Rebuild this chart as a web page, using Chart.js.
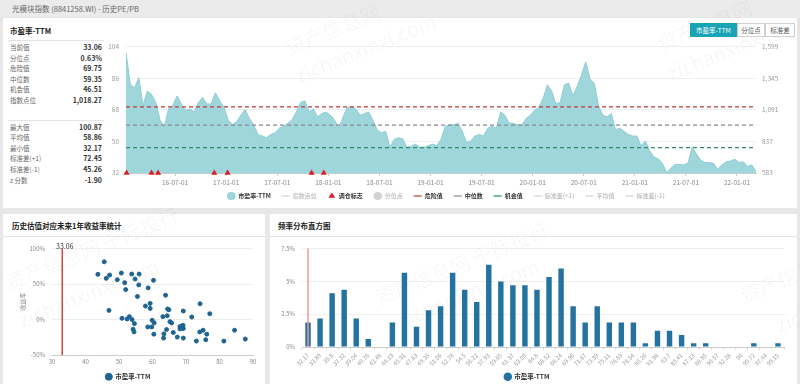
<!DOCTYPE html>
<html lang="zh-CN">
<head>
<meta charset="UTF-8">
<title>光模块指数 (8841258.WI) - 历史PE/PB</title>
<script src="https://cdn.jsdelivr.net/npm/chart.js"></script>
<style>
    body {
        margin: 0;
        width: 800px;
        height: 384px;
        overflow: hidden;
        position: relative;
        background: #e7e7e7;
        font-family: "Noto Sans CJK SC", "Noto Sans", sans-serif;
        color: #333;
    }
    .box { position: absolute; }
    .panel { position: absolute; background: #fff; }
    #header {
        left: 0; top: 0; width: 800px; height: 17px;
        line-height: 17px; font-size: 7.5px; color: #666;
        padding-left: 12px; box-sizing: border-box; background: #ebebeb;
    }
    .title { font-size: 7.5px; font-weight: bold; color: #222; }
    .rule { height: 1px; background: #e3e3e3; }
    .statLabel { font-size: 6.5px; color: #666; line-height: 10px; height: 10px; white-space: nowrap; }
    .statValue { font-size: 7px; font-weight: bold; color: #333; line-height: 10px; height: 10px; text-align: right; width: 60px; }
    .btn {
        height: 12px; line-height: 12px; font-size: 6.5px; text-align: center;
        border: 1px solid #d0d0d0; color: #555; background: #fff;
    }
    .btn.active { background: #18a4b4; border-color: #18a4b4; color: #fff; }
    .wm {
        position: absolute; white-space: nowrap; font-size: 20px; line-height: 20px;
        color: rgba(0, 0, 0, 0.045); transform-origin: 0 100%; transform: rotate(-22deg);
        pointer-events: none;
    }
</style>
</head>
<body>
    <div class="box" id="header">光模块指数 (8841258.WI) - 历史PE/PB</div>

    <div class="panel" style="left:3px;top:18px;width:794px;height:190px;"></div>
    <div class="panel" style="left:3px;top:214px;width:262px;height:170px;"></div>
    <div class="panel" style="left:270px;top:214px;width:527px;height:170px;"></div>

    <!-- site watermarks -->
    <div class="wm" style="left:290px;top:37px;">资产信息网</div>
    <div class="wm" style="left:300px;top:65px;">zichanxinxi.com</div>
    <div class="wm" style="left:662px;top:33px;">资产信息网</div>
    <div class="wm" style="left:672px;top:63px;">zichanxinxi.com</div>
    <div class="wm" style="left:10px;top:272px;">资产信息网 千际投行</div>
    <div class="wm" style="left:23px;top:310px;">zichanxinxi.com</div>
    <div class="wm" style="left:380px;top:287px;">资产信息网 千际投行</div>
    <div class="wm" style="left:403px;top:310px;">zichanxinxi.com</div>
    <div class="wm" style="left:745px;top:285px;">资产信息网</div>
    <div class="wm" style="left:780px;top:315px;">zichanxinxi.com</div>

    <div class="box title" style="left:10px;top:25px;">市盈率-TTM</div>
    <div class="box rule" style="left:8px;top:40px;width:96px;"></div>
    <div class="box rule" style="left:8px;top:120px;width:96px;"></div>
    <div id="stats"></div>

    <div class="box btn active" style="left:690px;top:23px;width:45px;">市盈率-TTM</div>
    <div class="box btn" style="left:737px;top:23px;width:26px;">分位点</div>
    <div class="box btn" style="left:765px;top:23px;width:28px;">标准差</div>

    <div class="box title" style="left:12px;top:220px;">历史估值对应未来1年收益率统计</div>
    <div class="box rule" style="left:3px;top:236px;width:262px;"></div>
    <div class="box title" style="left:278px;top:220px;">频率分布直方图</div>
    <div class="box rule" style="left:270px;top:236px;width:527px;"></div>

    <div class="box" style="left:100px;top:36px;width:692px;height:177px;"><canvas id="peChart"></canvas></div>
    <div class="box" style="left:3px;top:238px;width:262px;height:152px;"><canvas id="scatterChart"></canvas></div>
    <div class="box" style="left:270px;top:238px;width:527px;height:152px;"><canvas id="histChart"></canvas></div>

<script>
    // ---------- data ----------
    const currentPE = 33.06;
    const dangerPE = 69.75;
    const medianPE = 59.35;
    const chancePE = 46.51;

    const statLabelsA = ["当前值", "分位点", "危险值", "中位数", "机会值", "指数点位"];
    const statValuesA = ["33.06", "0.63%", "69.75", "59.35", "46.51", "1,018.27"];
    const statLabelsB = ["最大值", "平均值", "最小值", "标准差(+1)", "标准差(-1)", "z 分数"];
    const statValuesB = ["100.87", "58.86", "32.17", "72.45", "45.26", "-1.90"];

    // PE-TTM, one reading every half month from 2016-01-08
    const peValues = [
        100.87, 82.7, 80.5, 86.4, 70.5, 78.7, 76.9, 72.3, 62.2, 58.2,
        68.6, 70.5, 76.0, 71.4, 67.7, 68.6, 66.8, 72.3, 75.1, 71.4,
        71.4, 77.8, 73.2, 69.6, 62.2, 59.5, 61.3, 65.0, 68.3, 63.1,
        59.5, 54.0, 53.1, 52.1, 54.0, 54.9, 57.6, 58.6, 60.4, 62.2,
        66.8, 72.3, 73.2, 66.8, 68.6, 64.1, 65.9, 66.8, 65.0, 62.2,
        57.6, 64.1, 69.6, 69.6, 68.6, 65.0, 65.9, 66.8, 62.2, 56.7,
        54.9, 55.8, 46.7, 51.2, 52.1, 51.6, 46.7, 47.2, 48.5, 46.7,
        46.7, 47.6, 48.5, 47.6, 51.2, 58.6, 59.5, 59.5, 60.4, 55.8,
        49.4, 50.3, 53.1, 54.0, 53.1, 57.6, 58.6, 57.6, 66.8, 65.0,
        60.4, 60.4, 59.5, 59.5, 63.1, 65.0, 67.7, 69.6, 74.6, 82.4,
        78.7, 71.4, 72.3, 82.4, 83.3, 76.0, 81.5, 87.9, 95.5, 85.7,
        83.3, 70.5, 65.0, 64.1, 65.9, 56.7, 57.6, 55.8, 54.0, 53.1,
        53.1, 47.6, 50.3, 44.8, 41.2, 40.2, 37.5, 32.17, 34.7, 36.9,
        36.9, 36.6, 37.5, 46.7, 43.0, 39.3, 38.0, 38.0, 37.5, 34.2,
        36.6, 38.4, 38.8, 39.9, 38.0, 38.4, 35.7, 36.6, 33.06
    ];
    const rebalanceDates = ["2016-01-10", "2016-04-08", "2016-05-01", "2016-11-19", "2017-01-06", "2017-11-02", "2017-12-15"];
    const xTickLabels = ["16-07-01", "17-01-01", "17-07-01", "18-01-01", "18-07-01", "19-01-01",
                         "19-07-01", "20-01-01", "20-07-01", "21-01-01", "21-07-01", "22-01-01"];
    const peTicks = [32, 50, 68, 86, 104];
    const indexTicks = [583, 837, 1091, 1345, 1599];

    // PE vs next-year return (%)
    const scatterPE = [43.7, 45.6, 46.2, 47.2, 47.0, 49.5, 50.7, 51.7, 52.0, 53.8,
                       54.8, 56.0, 55.9, 55.5, 50.9, 52.4, 53.1, 53.9, 54.6, 54.2,
                       54.5, 58.7, 60.3, 57.9, 59.3, 59.3, 59.9, 60.5, 58.6, 59.8,
                       60.4, 63.9, 64.5, 64.9, 64.4, 63.1, 65.2, 65.7, 64.2, 63.4,
                       63.3, 66.2, 67.4, 68.2, 68.8, 69.1, 68.2, 69.2, 69.2, 69.2,
                       71.7, 74.2, 74.1, 75.1, 76.2, 75.9, 77.1, 73.1, 81.3, 84.5, 87.7];
    const scatterReturn = [63.7, 81.4, 58.1, 62.7, 12.9, 56.2, 65.5, 52.0, 42.2, 64.1,
                           57.1, 64.1, 48.8, 32.5, 1.7, 0.8, 4.1, -0.1, -5.7, -13.6,
                           -17.4, 44.6, 55.3, 19.0, 22.7, 15.7, -1.1, -4.8, -10.4, -10.4,
                           -20.6, 34.3, 14.8, 13.8, 5.4, 4.1, -3.0, -4.8, -14.1, -20.2,
                           -26.2, -18.3, -24.8, -13.2, -10.9, -8.1, -9.9, -12.7, 12.0, -26.2,
                           3.6, 22.2, -17.4, -15.0, -20.6, -28.5, 8.2, -30.4, -30.4, -15.0, -27.6];

    // histogram of PE readings (%)
    const histBins = ["32.17", "33.89", "35.6", "37.32", "39.04", "40.76", "42.48", "44.19", "45.91", "47.63",
                      "49.35", "51.06", "52.78", "54.5", "56.22", "57.93", "59.65", "61.37", "63.09", "64.8",
                      "66.52", "68.24", "69.96", "71.67", "73.39", "75.11", "76.83", "78.54", "80.26", "81.98",
                      "83.7", "85.41", "87.13", "88.85", "90.57", "92.28", "94", "95.72", "97.44", "99.15"];
    const histFreq = [1.87, 2.17, 4.09, 4.37, 2.17, 0.61, 0, 1.87, 5.66, 1.54,
                      2.80, 3.11, 5.66, 4.37, 3.43, 6.26, 5.0, 4.70, 4.70, 4.37,
                      5.33, 5.98, 3.11, 1.87, 3.11, 1.87, 1.87, 1.87, 0.28, 1.24,
                      1.24, 0.91, 0.28, 0.28, 0, 0, 0, 0.28, 0, 0.28];

    // ---------- helpers ----------
    const FONT = '"Noto Sans CJK SC", "Noto Sans", sans-serif';
    Chart.defaults.font.family = FONT;
    Chart.defaults.animation = false;

    function halfMonthDates(n) {
        const out = [];
        for (let k = 0; k < n; k++) {
            const m = Math.floor(k / 2);
            const y = 2016 + Math.floor(m / 12);
            const mo = m % 12 + 1;
            const d = k % 2 ? 23 : 8;
            out.push(y + "-" + String(mo).padStart(2, "0") + "-" + String(d).padStart(2, "0"));
        }
        return out;
    }
    function toMonths(s) {
        const [y, m, d] = s.split("-").map(Number);
        return (y - 2016) * 12 + (m - 1) + (d - 1) / 30;
    }

    // nudges the legend box up/down after layout (options.plugins.legendShift.dy)
    const legendShift = {
        id: "legendShift",
        afterLayout(chart, args, opts) {
            if (chart.legend && opts.dy) {
                chart.legend.top += opts.dy;
                chart.legend.bottom += opts.dy;
            }
        }
    };

    // stats list
    const stats = document.getElementById("stats");
    function addRows(labels, values, y0) {
        labels.forEach((lab, i) => {
            const y = y0 + i * 10.6;
            const l = document.createElement("div");
            l.className = "box statLabel";
            l.style.left = "10px";
            l.style.top = (y - 5) + "px";
            l.textContent = lab;
            const v = document.createElement("div");
            v.className = "box statValue";
            v.style.left = "42px";
            v.style.top = (y - 5) + "px";
            v.textContent = values[i];
            stats.appendChild(l);
            stats.appendChild(v);
        });
    }
    addRows(statLabelsA, statValuesA, 47);
    addRows(statLabelsB, statValuesB, 126.5);

    // ---------- main PE chart ----------
    const peDates = halfMonthDates(peValues.length);
    const pePoints = peDates.map((d, i) => ({ x: toMonths(d), y: peValues[i] }));
    const xMin = pePoints[0].x;
    const xMax = pePoints[pePoints.length - 1].x;
    const levelLine = v => [{ x: xMin, y: v }, { x: xMax, y: v }];
    const markPoints = rebalanceDates.map(d => ({ x: toMonths(d), y: peTicks[0] }));

    const muted = "#d2d2d2";
    function dashed(label, value, color, isMuted) {
        return {
            label: label, data: value === null ? [] : levelLine(value),
            borderColor: color, backgroundColor: color, borderWidth: 1.2,
            borderDash: [4, 3], pointRadius: 0, pointStyle: "line", muted: isMuted
        };
    }

    new Chart(document.getElementById("peChart"), {
        type: "line",
        data: {
            datasets: [
                { label: "市盈率-TTM", data: pePoints, fill: "start", order: 10,
                  backgroundColor: "#9fd6dc", borderColor: "#8bcdd4", borderWidth: 1,
                  pointRadius: 0, pointStyle: "circle", tension: 0 },
                { label: "指数点位", data: [], yAxisID: "y1", borderColor: muted, backgroundColor: muted,
                  borderWidth: 1.2, pointRadius: 0, pointStyle: "line", muted: true },
                { label: "调仓标志", data: markPoints, showLine: false, clip: false,
                  backgroundColor: "#d61f26", borderColor: "#d61f26", borderWidth: 0,
                  pointRadius: 3.6, pointStyle: "triangle" },
                { label: "分位点", data: [], backgroundColor: muted, borderColor: muted,
                  pointRadius: 0, pointStyle: "circle", muted: true },
                dashed("危险值", dangerPE, "#c0393b", false),
                dashed("中位数", medianPE, "#8a8a8a", false),
                dashed("机会值", chancePE, "#2e8b6e", false),
                dashed("标准差(+1)", null, muted, true),
                dashed("平均值", null, muted, true),
                dashed("标准差(-1)", null, muted, true)
            ]
        },
        options: {
            responsive: true,
            maintainAspectRatio: false,
            layout: { padding: { top: 6, left: 0, right: 0, bottom: 0 } },
            plugins: {
                tooltip: { enabled: false },
                legendShift: { dy: -4 },
                legend: {
                    position: "bottom",
                    labels: {
                        usePointStyle: true, pointStyleWidth: 8, boxHeight: 5, padding: 11,
                        font: { size: 6, weight: "bold" }, color: "#333",
                        sort: (a, b) => a.datasetIndex - b.datasetIndex,
                        generateLabels: chart => {
                            const items = Chart.defaults.plugins.legend.labels.generateLabels(chart);
                            items.forEach(it => {
                                const ds = chart.data.datasets[it.datasetIndex];
                                it.fontColor = ds.muted ? "#c4c4c4" : "#333";
                            });
                            return items;
                        }
                    }
                }
            },
            scales: {
                x: {
                    type: "linear", min: xMin, max: xMax,
                    afterBuildTicks: s => { s.ticks = xTickLabels.map(t => ({ value: toMonths("20" + t) })); },
                    afterFit: s => { s.height = 13; },
                    ticks: { autoSkip: false, maxRotation: 0, padding: 3, color: "#888",
                             font: { size: 6.5 }, callback: (v, i) => xTickLabels[i] },
                    grid: { drawOnChartArea: false, tickLength: 3, color: "#ccc" },
                    border: { color: "#ccc" }
                },
                y: {
                    position: "left", min: peTicks[0], max: peTicks[peTicks.length - 1],
                    afterBuildTicks: s => { s.ticks = peTicks.map(v => ({ value: v })); },
                    afterFit: s => { s.width = 26; },
                    ticks: { padding: 7, color: "#999", font: { size: 6.5 } },
                    grid: { color: "#eeeeee", drawTicks: false },
                    border: { display: false }
                },
                y1: {
                    position: "right", min: indexTicks[0], max: indexTicks[indexTicks.length - 1],
                    afterBuildTicks: s => { s.ticks = indexTicks.map(v => ({ value: v })); },
                    afterFit: s => { s.width = 36; },
                    ticks: { padding: 6, color: "#999", font: { size: 6.5 },
                             callback: v => v.toLocaleString("en-US") },
                    grid: { drawOnChartArea: false, drawTicks: false },
                    border: { display: false }
                }
            }
        },
        plugins: [legendShift]
    });

    // ---------- scatter: PE vs 1y return ----------
    const currentLine = {
        id: "currentLine",
        afterDatasetsDraw(chart) {
            const { ctx, chartArea, scales } = chart;
            const x = scales.x.getPixelForValue(currentPE);
            ctx.save();
            ctx.strokeStyle = "#d9413f";
            ctx.lineWidth = 1.5;
            ctx.beginPath();
            ctx.moveTo(x, chartArea.top);
            ctx.lineTo(x, chartArea.bottom);
            ctx.stroke();
            ctx.fillStyle = "#333";
            ctx.font = "7px " + FONT;
            ctx.textAlign = "center";
            ctx.textBaseline = "bottom";
            ctx.fillText(currentPE.toFixed(2), x + 2.5, chartArea.top + 1);
            ctx.restore();
        }
    };

    new Chart(document.getElementById("scatterChart"), {
        type: "scatter",
        data: {
            datasets: [{
                label: "市盈率-TTM",
                data: scatterPE.map((x, i) => ({ x: x, y: scatterReturn[i] })),
                backgroundColor: "#1f6390", borderColor: "#1f6390",
                pointRadius: 2, pointStyle: "circle"
            }]
        },
        options: {
            responsive: true,
            maintainAspectRatio: false,
            layout: { padding: { top: 9, right: 12 } },
            plugins: {
                tooltip: { enabled: false },
                legend: {
                    position: "bottom",
                    labels: { usePointStyle: true, boxHeight: 5, padding: 6.5, color: "#333",
                              font: { size: 6.5, weight: "bold" } }
                }
            },
            scales: {
                x: {
                    min: 30, max: 90,
                    afterFit: s => { s.height = 12; },
                    ticks: { stepSize: 10, padding: 3, color: "#888", font: { size: 6 } },
                    grid: { drawOnChartArea: false, drawTicks: false },
                    border: { color: "#ccc" }
                },
                y: {
                    min: -50, max: 100,
                    afterFit: s => { s.width = 49; },
                    title: { display: true, text: "收益率", color: "#888", font: { size: 6 },
                             padding: { top: 16, bottom: 0 } },
                    ticks: { stepSize: 50, padding: 7, color: "#888", font: { size: 6 }, callback: v => v + "%" },
                    grid: { color: "#eeeeee", drawTicks: false },
                    border: { display: false }
                }
            }
        },
        plugins: [currentLine]
    });

    // ---------- histogram ----------
    const histLine = {
        id: "histLine",
        afterDatasetsDraw(chart) {
            const { ctx, chartArea, scales } = chart;
            const x = scales.x.getPixelForValue(0);
            ctx.save();
            ctx.strokeStyle = "#f19a9a";
            ctx.lineWidth = 1.5;
            ctx.beginPath();
            ctx.moveTo(x, chartArea.top);
            ctx.lineTo(x, chartArea.bottom);
            ctx.stroke();
            ctx.restore();
        }
    };

    new Chart(document.getElementById("histChart"), {
        type: "bar",
        data: {
            labels: histBins,
            datasets: [{
                label: "市盈率-TTM", data: histFreq,
                backgroundColor: "#23729f", borderWidth: 0,
                categoryPercentage: 1, barPercentage: 0.45, pointStyle: "circle"
            }]
        },
        options: {
            responsive: true,
            maintainAspectRatio: false,
            layout: { padding: { top: 9, right: 13 } },
            plugins: {
                tooltip: { enabled: false },
                legend: {
                    position: "bottom",
                    labels: { usePointStyle: true, boxHeight: 6, padding: 4.5, color: "#333",
                              font: { size: 6.5, weight: "bold" } }
                }
            },
            scales: {
                x: {
                    afterFit: s => { s.height = 22; },
                    ticks: { autoSkip: false, minRotation: 45, maxRotation: 45, padding: 2,
                             color: "#999", font: { size: 5.8 } },
                    grid: { drawOnChartArea: false, tickLength: 3, color: "#ddd" },
                    border: { color: "#ccc" }
                },
                y: {
                    min: 0, max: 7.5,
                    afterFit: s => { s.width = 32; },
                    ticks: { stepSize: 2.5, padding: 7, color: "#888", font: { size: 6 }, callback: v => v + "%" },
                    grid: { color: "#eeeeee", drawTicks: false },
                    border: { display: false }
                }
            }
        },
        plugins: [histLine]
    });
</script>
</body>
</html>
